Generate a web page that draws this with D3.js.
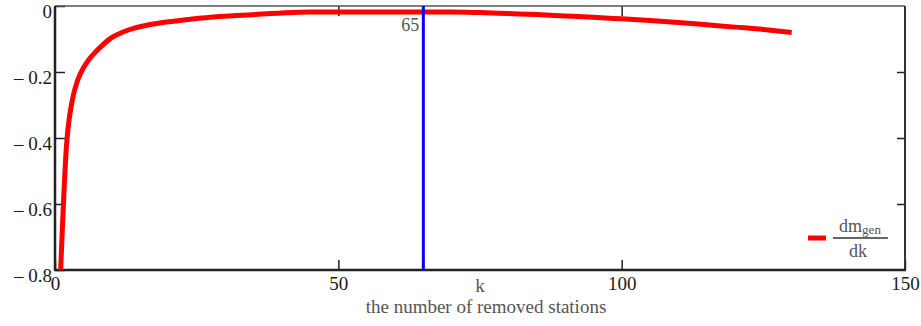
<!DOCTYPE html>
<html>
<head>
<meta charset="utf-8">
<script src="https://cdn.jsdelivr.net/npm/d3@7/dist/d3.min.js"></script>
<style>
  html, body { margin: 0; padding: 0; background: #fff; }
  svg { display: block; }
</style>
</head>
<body>
<svg id="chart" width="921" height="326"></svg>
<script>
// Derivative of generated mass vs. number of removed stations
const kValues = [1, 2, 3, 4, 5, 6, 7, 8, 9, 10, 12, 14, 16, 18, 20, 22, 25, 28, 32, 36, 40, 45, 50, 55, 60, 65, 70, 75, 80, 85, 90, 95, 100, 105, 110, 115, 120, 125, 130];
const dmValues = [-0.80, -0.43, -0.29, -0.225, -0.188, -0.162, -0.142, -0.125, -0.109, -0.096, -0.079, -0.067, -0.059, -0.053, -0.048, -0.044, -0.038, -0.033, -0.029, -0.025, -0.021, -0.018, -0.018, -0.018, -0.018, -0.018, -0.018, -0.020, -0.023, -0.026, -0.030, -0.034, -0.039, -0.044, -0.050, -0.057, -0.064, -0.071, -0.080];
const xTicks = [0, 50, 100, 150];
const yTicks = [0, -0.2, -0.4, -0.6, -0.8];
const markerK = 65;

const SERIF = '"Liberation Serif", "Times New Roman", serif';
const svg = d3.select("#chart");
const plotL = 55, plotR = 905, plotT = 6, plotB = 270;

const x = d3.scaleLinear().domain([0, 150]).range([plotL, plotR]);
const y = d3.scaleLinear().domain([-0.8, 0]).range([plotB, plotT]);

const fmtY = v => v === 0 ? "0" : "\u2013 " + d3.format(".1f")(Math.abs(v));

// bottom axis with inward ticks and labels
const gx = svg.append("g").attr("transform", `translate(0,${plotB})`)
  .call(d3.axisBottom(x).tickValues(xTicks).tickSizeInner(-10).tickSizeOuter(0).tickPadding(7).tickFormat(d3.format("d")));
gx.select(".domain").remove();
gx.selectAll("line").attr("stroke", "#222").attr("stroke-width", 1.5);
gx.selectAll("text").style("font-family", SERIF).style("font-size", "19px").attr("fill", "#1a1a1a");

// left axis
const gy = svg.append("g").attr("transform", `translate(${plotL},0)`)
  .call(d3.axisLeft(y).tickValues(yTicks).tickSizeInner(-10).tickSizeOuter(0).tickPadding(3).tickFormat(fmtY));
gy.select(".domain").remove();
gy.selectAll("line").attr("stroke", "#222").attr("stroke-width", 1.5);
gy.selectAll("text").style("font-family", SERIF).style("font-size", "19px")
  .attr("fill", "#1a1a1a").attr("dy", "0.6em");

// mirrored ticks on top and right
const gt = svg.append("g").attr("transform", `translate(0,${plotT})`)
  .call(d3.axisTop(x).tickValues([50, 100]).tickSizeInner(-10).tickSizeOuter(0).tickFormat(""));
gt.select(".domain").remove();
gt.selectAll("line").attr("stroke", "#222").attr("stroke-width", 1.5);

const gr = svg.append("g").attr("transform", `translate(${plotR},0)`)
  .call(d3.axisRight(y).tickValues([-0.2, -0.4, -0.6]).tickSizeInner(-8).tickSizeOuter(0).tickFormat(""));
gr.select(".domain").remove();
gr.selectAll("line").attr("stroke", "#222").attr("stroke-width", 1.5);

// frame
svg.append("line").attr("x1", plotL).attr("x2", plotR).attr("y1", plotT).attr("y2", plotT)
  .attr("stroke", "#555").attr("stroke-width", 1.5);
svg.append("line").attr("x1", plotR).attr("x2", plotR).attr("y1", plotT).attr("y2", plotB)
  .attr("stroke", "#333").attr("stroke-width", 2);
svg.append("line").attr("x1", plotL).attr("x2", plotL).attr("y1", plotT).attr("y2", plotB + 1)
  .attr("stroke", "#222").attr("stroke-width", 2.5);
svg.append("line").attr("x1", plotL).attr("x2", plotR + 1).attr("y1", plotB).attr("y2", plotB)
  .attr("stroke", "#222").attr("stroke-width", 2.5);

// curve
const pts = kValues.map((k, i) => [k, dmValues[i]]);
const line = d3.line().x(d => x(d[0])).y(d => y(d[1])).curve(d3.curveMonotoneX);
svg.append("path").datum(pts).attr("d", line)
  .attr("fill", "none").attr("stroke", "#ff0000").attr("stroke-width", 5)
  .attr("stroke-linejoin", "round");

// vertical marker
svg.append("line").attr("x1", x(markerK)).attr("x2", x(markerK))
  .attr("y1", y(0)).attr("y2", y(-0.8))
  .attr("stroke", "#0000ff").attr("stroke-width", 3);
svg.append("text").attr("x", x(markerK) - 4).attr("y", 31)
  .attr("text-anchor", "end").style("font-family", SERIF).style("font-size", "18px").attr("fill", "#555")
  .text(markerK);

// axis titles
svg.append("text").attr("x", 480).attr("y", 292).attr("text-anchor", "middle")
  .style("font-family", SERIF).style("font-size", "19px").attr("fill", "#555").text("k");
svg.append("text").attr("x", 486).attr("y", 313).attr("text-anchor", "middle")
  .style("font-family", SERIF).style("font-size", "19px").attr("fill", "#555").text("the number of removed stations");

// legend
svg.append("line").attr("x1", 808).attr("x2", 826).attr("y1", 238).attr("y2", 238)
  .attr("stroke", "#ff0000").attr("stroke-width", 5);
const num = svg.append("text").attr("x", 860).attr("y", 232).attr("text-anchor", "middle")
  .style("font-family", SERIF).style("font-size", "18px").attr("fill", "#555");
num.append("tspan").text("dm");
num.append("tspan").style("font-size", "13px").attr("dy", 2).text("gen");
svg.append("line").attr("x1", 833).attr("x2", 888).attr("y1", 238).attr("y2", 238)
  .attr("stroke", "#333").attr("stroke-width", 1.5);
svg.append("text").attr("x", 858).attr("y", 257).attr("text-anchor", "middle")
  .style("font-family", SERIF).style("font-size", "18px").attr("fill", "#555").text("dk");
</script>
</body>
</html>
